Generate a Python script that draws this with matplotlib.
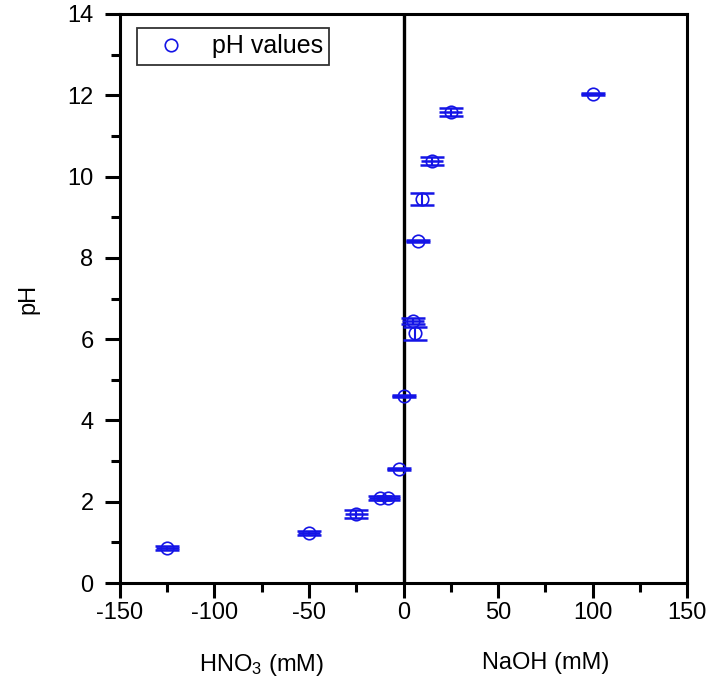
import numpy as np
import matplotlib
matplotlib.use('Agg')
import matplotlib.pyplot as plt
from matplotlib.ticker import MultipleLocator

plt.rcParams['font.family'] = ['Liberation Sans', 'DejaVu Sans']
plt.rcParams['mathtext.default'] = 'regular'
plt.rcParams['axes.unicode_minus'] = False

# concentration (negative = HNO3, positive = NaOH), mM
conc = [-125, -50, -25, -12.5, -8, -2.5, 0, 5, 6, 7.5, 10, 15, 25, 100]
ph = [0.86, 1.23, 1.70, 2.09, 2.09, 2.81, 4.60, 6.45, 6.15, 8.42, 9.45, 10.38, 11.59, 12.03]
ph_err = [0.04, 0.05, 0.09, 0.05, 0.04, 0.02, 0.02, 0.07, 0.16, 0.03, 0.14, 0.09, 0.10, 0.02]
conc_err = [6, 6, 6, 6, 6, 6, 6, 6, 0, 6, 0, 6, 6, 6]

blue = '#1414e6'
fs = 17

fig = plt.figure(figsize=(7.12, 6.93), dpi=100)
ax = fig.add_axes([0.1685, 0.1587, 0.7965, 0.8211])

# horizontal bars through the points
ax.errorbar(conc, ph, xerr=conc_err, fmt='none', ecolor=blue, elinewidth=1.8, capsize=0)
# vertical bars with caps
ax.errorbar(conc, ph, yerr=ph_err, fmt='none', ecolor=blue, elinewidth=1.5,
            capsize=8.3, capthick=1.8)
ax.plot(conc, ph, 'o', mfc='none', mec=blue, ms=9, mew=1.2, label='pH values')

ax.axvline(0, color='black', lw=2.4, zorder=1)

ax.set_xlim(-150, 150)
ax.set_ylim(0, 14)
ax.xaxis.set_major_locator(MultipleLocator(50))
ax.xaxis.set_minor_locator(MultipleLocator(25))
ax.yaxis.set_major_locator(MultipleLocator(2))
ax.yaxis.set_minor_locator(MultipleLocator(1))
ax.tick_params(which='major', direction='out', length=11, width=2.2, labelsize=fs)
ax.tick_params(axis='x', which='major', pad=3)
ax.tick_params(axis='y', which='major', pad=8)
ax.tick_params(which='minor', direction='out', length=6.5, width=2.2)
for s in ax.spines.values():
    s.set_linewidth(2.2)

ax.set_ylabel('pH', fontsize=fs, labelpad=20)
ax.text(-75, -1.7, 'HNO$_3$ (mM)', fontsize=fs, ha='center', va='top')
ax.text(75, -1.7, 'NaOH (mM)', fontsize=fs, ha='center', va='top')

leg = ax.legend(loc='upper left', fontsize=18, frameon=True, fancybox=False,
                edgecolor='black', handletextpad=0.55, borderpad=0.25,
                borderaxespad=0, bbox_to_anchor=(0.03, 0.975), handlelength=2.2)
leg.get_frame().set_linewidth(1.3)

fig.savefig('out.png', dpi=100)
